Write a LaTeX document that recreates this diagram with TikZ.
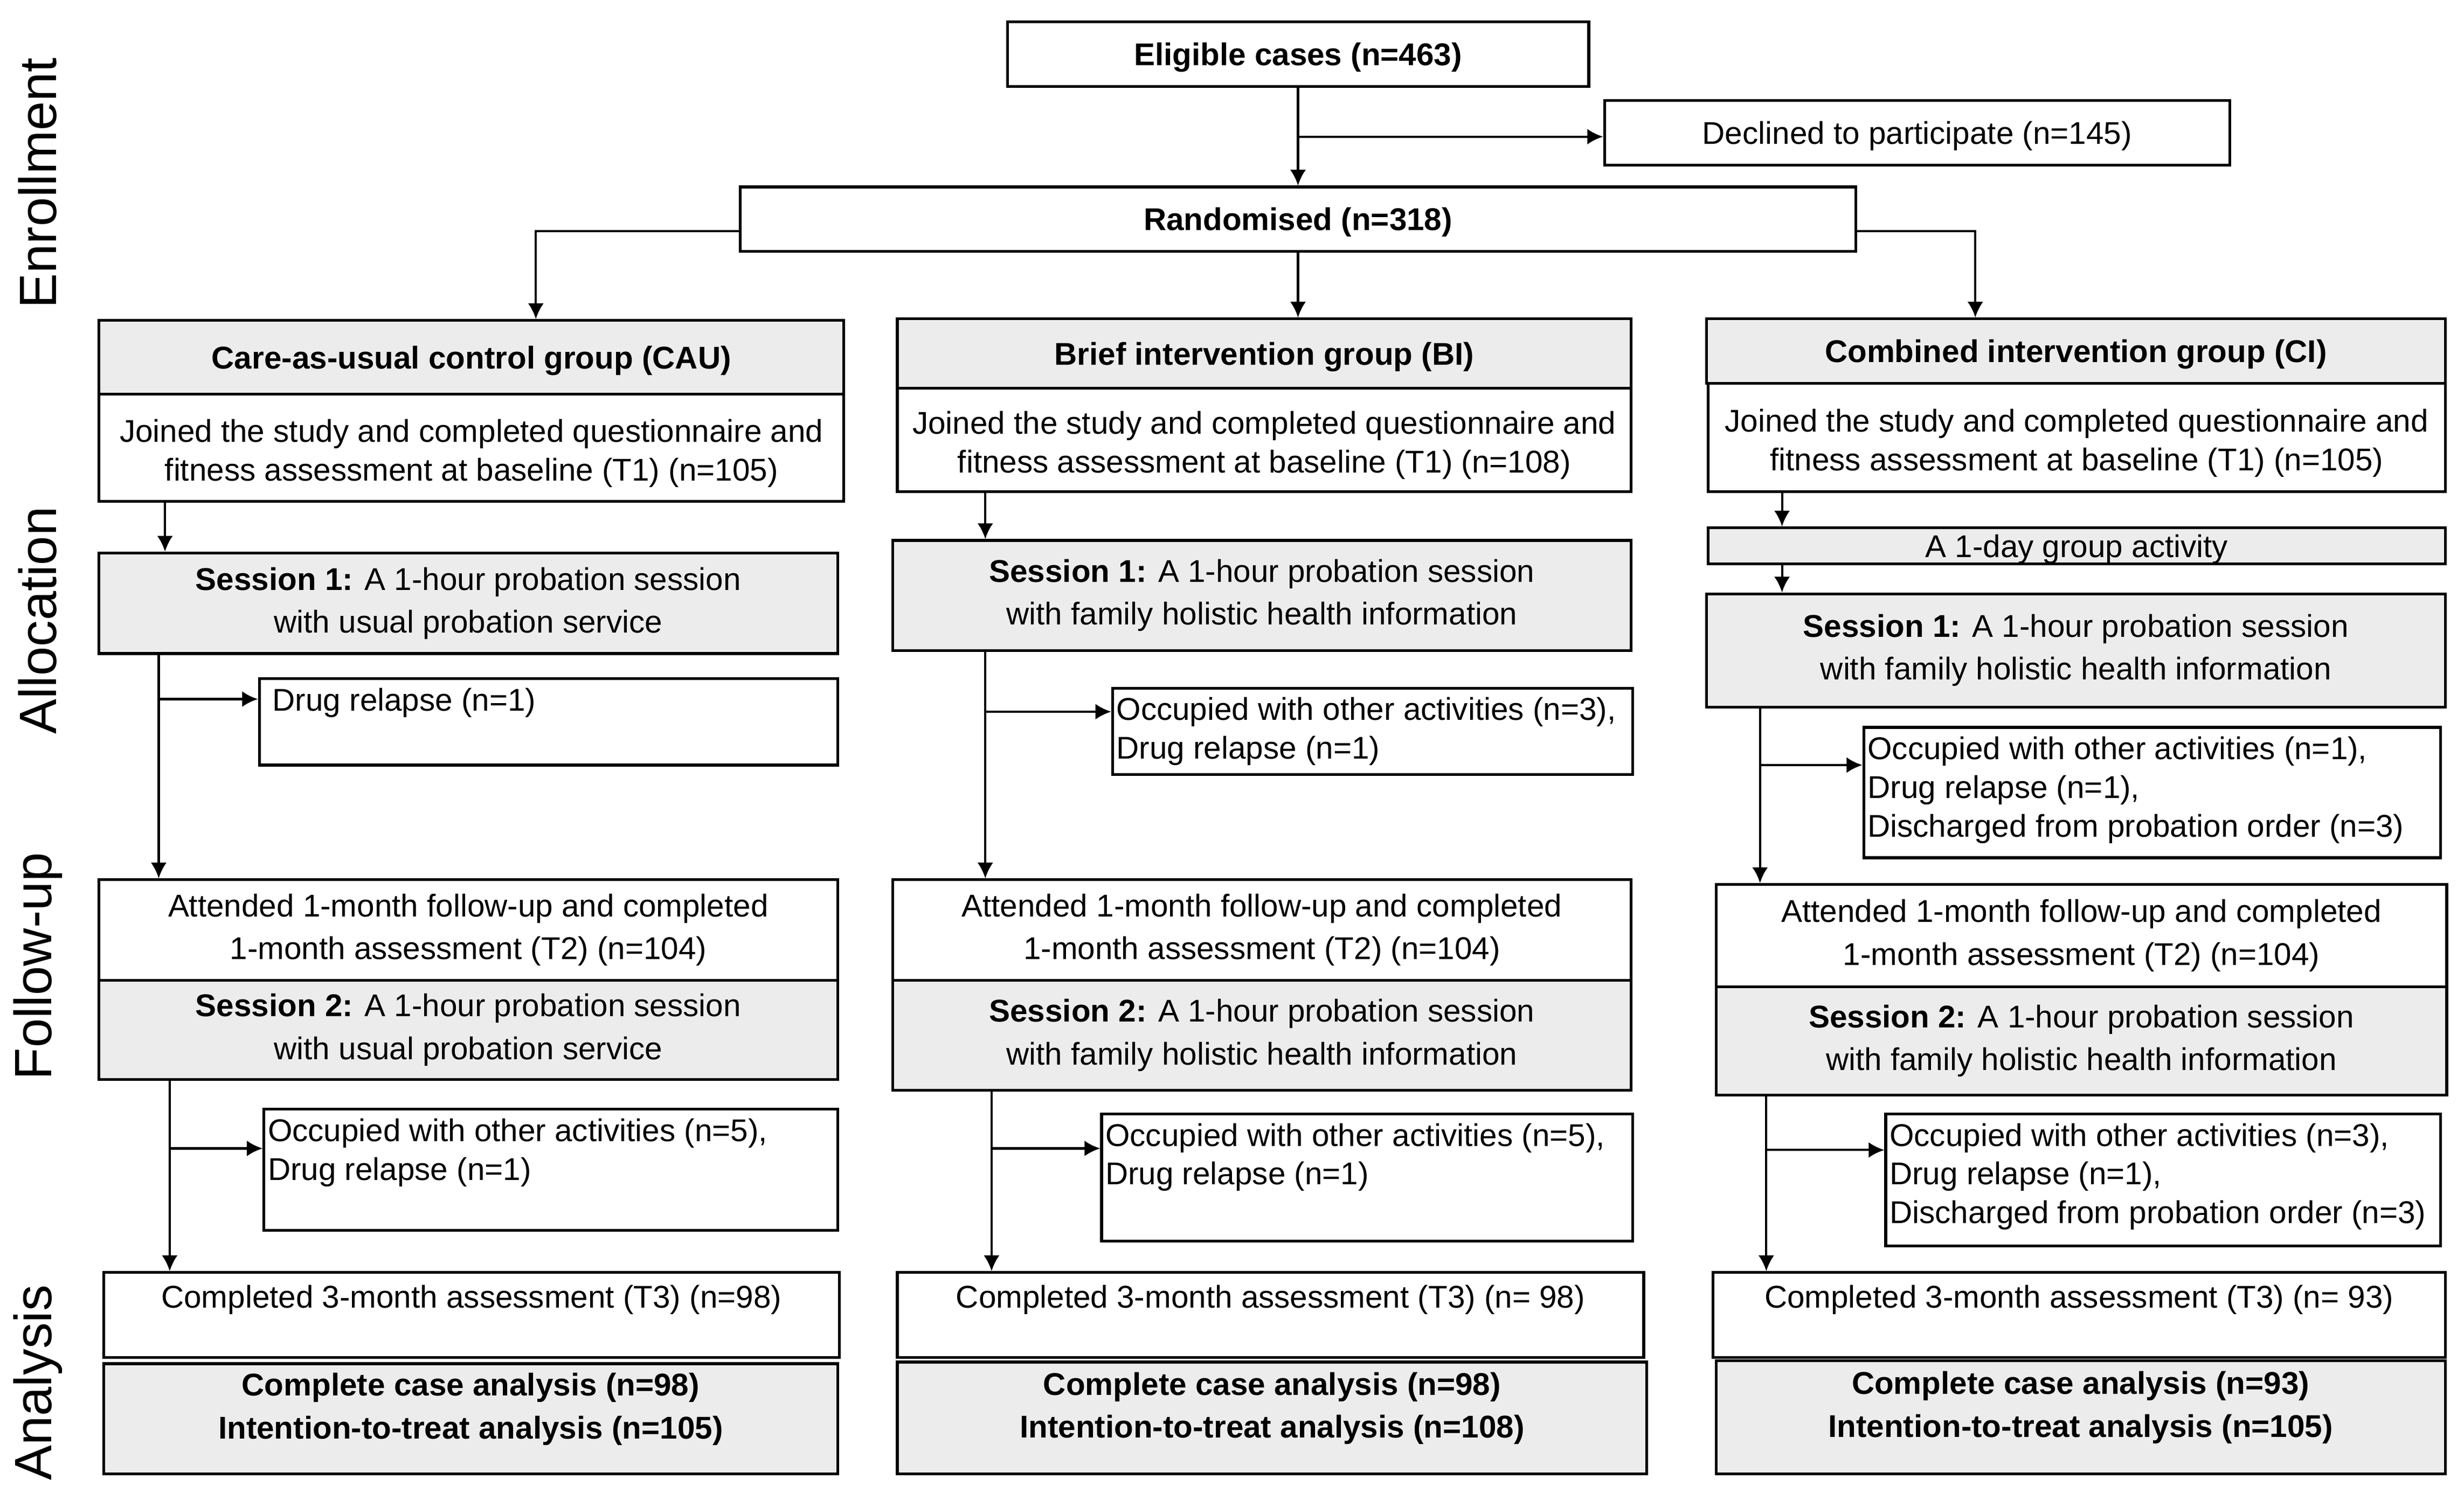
\documentclass[tikz,border=0pt]{standalone}
\usepackage{fontspec}
\setmainfont{Liberation Sans}
\usetikzlibrary{arrows.meta}

\definecolor{boxgray}{RGB}{236,236,236}
\newcommand{\boxfont}{\fontsize{11.4}{14}\selectfont}
\newcommand{\wideboxfont}{\fontsize{11.4}{15.5}\selectfont}

\tikzset{
  box/.style={draw, line width=1pt, inner sep=0pt, align=center, font=\boxfont},
  graybox/.style={box, fill=boxgray},
  oneline/.style={text height=0.35cm, text depth=0.06cm},
  boldbox/.style={box, oneline, font=\boxfont\bfseries},
  headbox/.style={graybox, oneline, font=\boxfont\bfseries},
  sessbox/.style={graybox, font=\wideboxfont},
  notebox/.style={box},
  notetext/.style={anchor=north west, inner xsep=0.06cm, inner ysep=0.13cm, align=left, font=\boxfont},
  boxtext/.style={inner sep=0pt, align=center, font=\boxfont},
  arr/.style={-{Latex[length=2mm,width=2mm]}, line width=0.8pt},
  phase/.style={rotate=90, inner sep=0pt, font=\fontsize{19}{22}\selectfont},
}

\begin{document}
\begin{tikzpicture}
  \useasboundingbox (0,0) rectangle (31.36,-19.09);

  % phase labels
  \node[phase] (pEnrol) at (0.48,-2.33) {Enrollment};
  \node[phase] (pAlloc) at (0.48,-7.90) {Allocation};
  \node[phase] (pFollow) at (0.48,-12.30) {Follow-up};
  \node[phase] (pAnalysis) at (0.48,-17.60) {Analysis};

  % enrollment
  \node[boldbox, minimum width=7.40cm, minimum height=0.82cm] (elig) at (16.52,-0.69) {Eligible cases (n=463)};
  \node[box, oneline, minimum width=7.96cm, minimum height=0.82cm] (decl) at (24.40,-1.69) {Declined to participate (n=145)};
  \node[boldbox, minimum width=14.20cm, minimum height=0.82cm] (rand) at (16.52,-2.79) {Randomised (n=318)};

  \draw[arr] (elig.south) -- (rand.north);
  \draw[arr] ([yshift=-0.05cm]elig.south |- decl.west) -- ([yshift=-0.05cm]decl.west);

  % care-as-usual column
  \node[headbox, minimum width=9.48cm, minimum height=0.94cm] (cauHead) at (6.00,-4.55) {Care-as-usual control group (CAU)};
  \node[box, minimum width=9.48cm, minimum height=1.36cm] (cauJoin) at (6.00,-5.70) {};
  \node[boxtext, yshift=-0.07cm] (cauJoint) at (cauJoin.center) {Joined the study and completed questionnaire and\\fitness assessment at baseline (T1) (n=105)};
  \node[sessbox, minimum width=9.40cm, minimum height=1.28cm] (cauS1) at (5.96,-7.68) {\textbf{Session 1:} A 1-hour probation session\\with usual probation service};
  \node[notebox, minimum width=7.36cm, minimum height=1.10cm] (cauDrop1) at (6.98,-9.19) {};
  \node[notetext, xshift=0.12cm] (cauDrop1t) at (cauDrop1.north west) {Drug relapse (n=1)};
  \node[box, font=\wideboxfont, minimum width=9.40cm, minimum height=1.28cm] (cauAtt) at (5.96,-11.84) {Attended 1-month follow-up and completed\\1-month assessment (T2) (n=104)};
  \node[sessbox, minimum width=9.40cm, minimum height=1.26cm] (cauS2) at (5.96,-13.11) {\textbf{Session 2:} A 1-hour probation session\\with usual probation service};
  \node[notebox, minimum width=7.30cm, minimum height=1.54cm] (cauDrop2) at (7.01,-14.89) {};
  \node[notetext] (cauDrop2t) at (cauDrop2.north west) {Occupied with other activities (n=5),\\Drug relapse (n=1)};
  \node[notebox, minimum width=9.36cm, minimum height=1.08cm] (cauComp) at (6.00,-16.74) {};
  \node[notetext, anchor=north, inner ysep=0.17cm] (cauCompt) at (cauComp.north) {Completed 3-month assessment (T3) (n=98)};
  \node[graybox, minimum width=9.34cm, minimum height=1.40cm] (cauAna) at (5.99,-18.06) {};
  \node[boxtext, font=\wideboxfont\bfseries, yshift=0.12cm] (cauAnat) at (cauAna.center) {Complete case analysis (n=98)\\Intention-to-treat analysis (n=105)};

  % brief intervention column
  \node[headbox, minimum width=9.34cm, minimum height=0.88cm] (biHead) at (16.09,-4.50) {Brief intervention group (BI)};
  \node[box, minimum width=9.34cm, minimum height=1.32cm] (biJoin) at (16.09,-5.60) {};
  \node[boxtext, yshift=-0.07cm] (biJoint) at (biJoin.center) {Joined the study and completed questionnaire and\\fitness assessment at baseline (T1) (n=108)};
  \node[sessbox, minimum width=9.40cm, minimum height=1.40cm] (biS1) at (16.06,-7.58) {\textbf{Session 1:} A 1-hour probation session\\with family holistic health information};
  \node[notebox, minimum width=6.62cm, minimum height=1.10cm] (biDrop1) at (17.47,-9.31) {};
  \node[notetext] (biDrop1t) at (biDrop1.north west) {Occupied with other activities (n=3),\\Drug relapse (n=1)};
  \node[box, font=\wideboxfont, minimum width=9.40cm, minimum height=1.28cm] (biAtt) at (16.06,-11.84) {Attended 1-month follow-up and completed\\1-month assessment (T2) (n=104)};
  \node[sessbox, minimum width=9.40cm, minimum height=1.40cm] (biS2) at (16.06,-13.18) {\textbf{Session 2:} A 1-hour probation session\\with family holistic health information};
  \node[notebox, minimum width=6.76cm, minimum height=1.62cm] (biDrop2) at (17.40,-14.99) {};
  \node[notetext] (biDrop2t) at (biDrop2.north west) {Occupied with other activities (n=5),\\Drug relapse (n=1)};
  \node[notebox, minimum width=9.50cm, minimum height=1.08cm] (biComp) at (16.17,-16.74) {};
  \node[notetext, anchor=north, inner ysep=0.17cm] (biCompt) at (biComp.north) {Completed 3-month assessment (T3) (n= 98)};
  \node[graybox, minimum width=9.54cm, minimum height=1.42cm] (biAna) at (16.19,-18.05) {};
  \node[boxtext, font=\wideboxfont\bfseries, yshift=0.12cm] (biAnat) at (biAna.center) {Complete case analysis (n=98)\\Intention-to-treat analysis (n=108)};

  % combined intervention column
  \node[headbox, minimum width=9.40cm, minimum height=0.82cm] (ciHead) at (26.42,-4.47) {Combined intervention group (CI)};
  \node[box, minimum width=9.38cm, minimum height=1.38cm] (ciJoin) at (26.43,-5.57) {};
  \node[boxtext, yshift=-0.07cm] (ciJoint) at (ciJoin.center) {Joined the study and completed questionnaire and\\fitness assessment at baseline (T1) (n=105)};
  \node[graybox, oneline, minimum width=9.38cm, minimum height=0.46cm] (ciDay) at (26.43,-6.95) {A 1-day group activity};
  \node[sessbox, minimum width=9.40cm, minimum height=1.44cm] (ciS1) at (26.42,-8.28) {\textbf{Session 1:} A 1-hour probation session\\with family holistic health information};
  \node[notebox, minimum width=7.34cm, minimum height=1.66cm] (ciDrop1) at (27.39,-10.09) {};
  \node[notetext] (ciDrop1t) at (ciDrop1.north west) {Occupied with other activities (n=1),\\Drug relapse (n=1),\\Discharged from probation order (n=3)};
  \node[box, font=\wideboxfont, minimum width=9.30cm, minimum height=1.30cm] (ciAtt) at (26.49,-11.91) {Attended 1-month follow-up and completed\\1-month assessment (T2) (n=104)};
  \node[sessbox, minimum width=9.30cm, minimum height=1.38cm] (ciS2) at (26.49,-13.25) {\textbf{Session 2:} A 1-hour probation session\\with family holistic health information};
  \node[notebox, minimum width=7.06cm, minimum height=1.68cm] (ciDrop2) at (27.53,-15.02) {};
  \node[notetext] (ciDrop2t) at (ciDrop2.north west) {Occupied with other activities (n=3),\\Drug relapse (n=1),\\Discharged from probation order (n=3)};
  \node[notebox, minimum width=9.32cm, minimum height=1.08cm] (ciComp) at (26.46,-16.74) {};
  \node[notetext, anchor=north, inner ysep=0.17cm] (ciCompt) at (ciComp.north) {Completed 3-month assessment (T3) (n= 93)};
  \node[graybox, minimum width=9.28cm, minimum height=1.44cm] (ciAna) at (26.48,-18.04) {};
  \node[boxtext, font=\wideboxfont\bfseries, yshift=0.12cm] (ciAnat) at (ciAna.center) {Complete case analysis (n=93)\\Intention-to-treat analysis (n=105)};

  % randomisation arrows
  \draw[arr] ([yshift=-0.15cm]rand.west) -| ([xshift=0.82cm]cauHead.north);
  \draw[arr] (rand.south) -- (rand.south |- biHead.north);
  \draw[arr] ([yshift=-0.15cm]rand.east) -| ([xshift=-1.28cm]ciHead.north);

  % lanes
  \coordinate (cauX) at (2.10,0);
  \coordinate (cauB1) at (2.02,-8.90);
  \coordinate (cauB2) at (2.16,-14.62);
  \coordinate (biX) at (12.54,0);
  \coordinate (biB1) at (12.54,-9.06);
  \coordinate (biB2) at (12.62,-14.62);
  \coordinate (ciX) at (22.68,0);
  \coordinate (ciB1) at (22.40,-9.74);
  \coordinate (ciB2) at (22.48,-14.64);

  \draw[arr] (cauX |- cauJoin.south) -- (cauX |- cauS1.north);
  \draw[arr] (cauB1 |- cauS1.south) -- (cauB1 |- cauAtt.north);
  \draw[arr] (cauB1) -- (cauB1 -| cauDrop1.west);
  \draw[arr] (cauB2 |- cauS2.south) -- (cauB2 |- cauComp.north);
  \draw[arr] (cauB2) -- (cauB2 -| cauDrop2.west);

  \draw[arr] (biX |- biJoin.south) -- (biX |- biS1.north);
  \draw[arr] (biB1 |- biS1.south) -- (biB1 |- biAtt.north);
  \draw[arr] (biB1) -- (biB1 -| biDrop1.west);
  \draw[arr] (biB2 |- biS2.south) -- (biB2 |- biComp.north);
  \draw[arr] (biB2) -- (biB2 -| biDrop2.west);

  \draw[arr] (ciX |- ciJoin.south) -- (ciX |- ciDay.north);
  \draw[arr] (ciX |- ciDay.south) -- (ciX |- ciS1.north);
  \draw[arr] (ciB1 |- ciS1.south) -- (ciB1 |- ciAtt.north);
  \draw[arr] (ciB1) -- (ciB1 -| ciDrop1.west);
  \draw[arr] (ciB2 |- ciS2.south) -- (ciB2 |- ciComp.north);
  \draw[arr] (ciB2) -- (ciB2 -| ciDrop2.west);
\end{tikzpicture}
\end{document}
